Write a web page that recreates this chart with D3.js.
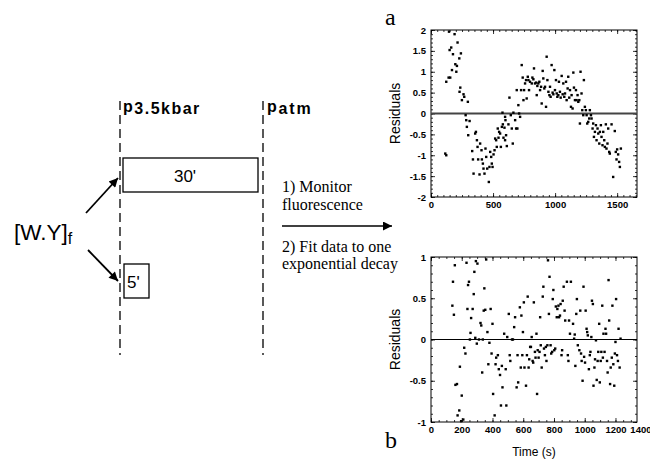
<!DOCTYPE html>
<html>
<head>
<meta charset="utf-8">
<script src="https://cdn.jsdelivr.net/npm/d3@7"></script>
<style>
  body { margin: 0; background: #fff; }
  svg { display: block; }
  text { font-family: "Liberation Sans", Arial, sans-serif; fill: #000; }
  .serif { font-family: "Liberation Serif", "Times New Roman", serif; }
</style>
</head>
<body>
<svg id="fig" width="650" height="459"></svg>
<script>

// residuals, 30 min at 3.5 kbar (panel a): [time s, residual]
const pointsA = [
  [115,-0.96],[123,-1.0],[123,0.76],[142,0.86],[155,0.86],[145,1.96],[150,1.52],[163,1.58],[177,1.42],[190,1.9],
  [169,1.04],[196,1.18],[204,1.0],[209,1.14],[214,1.7],[228,1.32],[241,1.44],[236,0.62],[230,0.52],[249,0.32],
  [262,0.46],[268,0.4],[297,0.28],[279,-0.04],[284,-0.16],[289,-0.32],[300,-0.52],[311,-0.18],[332,-0.9],[338,-1.1],
  [343,-1.44],[356,-0.48],[362,-0.44],[370,-0.64],[375,-0.8],[380,-1.1],[391,-1.46],[396,-0.72],[407,-0.88],[410,-1.1],
  [418,-1.2],[423,-1.32],[431,-1.44],[439,-0.84],[445,-1.04],[453,-1.32],[466,-1.64],[471,-1.28],[477,-0.92],[485,-1.04],
  [490,-1.2],[496,-1.28],[504,-0.98],[512,-0.88],[517,-0.6],[525,-0.64],[530,-0.8],[538,-0.36],[544,-0.58],[549,-0.44],
  [557,-0.48],[563,-0.8],[571,-0.32],[579,-0.26],[584,-0.58],[592,-0.34],[597,-0.64],[605,-0.52],[611,-0.78],[576,0.02],
  [597,-0.08],[600,-0.16],[624,-0.26],[632,0.38],[643,-0.04],[651,-0.36],[659,-0.72],[664,0.02],[678,-0.16],[686,-0.36],
  [691,0.56],[696,-0.36],[704,0.2],[710,0.0],[718,-0.08],[726,0.56],[731,1.16],[739,0.86],[745,0.32],[750,0.56],
  [758,0.72],[766,0.8],[771,0.36],[780,0.88],[785,0.8],[790,0.56],[798,0.76],[812,0.72],[817,0.86],[825,0.82],
  [830,1.08],[838,0.72],[847,0.74],[852,0.44],[857,0.66],[865,0.72],[873,0.76],[879,0.56],[887,0.64],[892,0.24],
  [900,1.02],[905,0.84],[913,0.6],[919,0.64],[927,0.16],[932,1.36],[938,0.8],[946,0.52],[954,0.44],[959,0.64],
  [964,0.4],[972,1.16],[980,0.5],[986,0.46],[994,1.04],[999,0.56],[1007,0.8],[1013,0.48],[1018,0.4],[1026,0.44],
  [1031,0.76],[1039,0.52],[1045,0.38],[1053,0.9],[1061,0.46],[1066,0.72],[1074,0.4],[1080,0.48],[1088,0.76],[1093,0.32],
  [1101,0.6],[1106,0.88],[1114,0.38],[1120,0.56],[1128,0.16],[1133,0.44],[1141,0.12],[1147,0.98],[1152,0.62],[1160,0.32],
  [1168,0.56],[1173,0.32],[1181,0.44],[1187,0.28],[1195,0.32],[1200,-0.24],[1205,1.0],[1213,0.48],[1219,0.08],[1227,-0.04],
  [1232,0.8],[1240,0.16],[1248,0.08],[1254,-0.04],[1259,-0.24],[1267,-0.2],[1275,-0.12],[1280,0.08],[1289,-0.04],[1294,-0.12],
  [1302,-0.36],[1307,-0.24],[1313,-0.56],[1321,-0.44],[1329,-0.28],[1334,-0.64],[1342,-0.36],[1348,-0.48],[1356,-0.72],[1361,-0.44],
  [1369,-0.28],[1374,-0.56],[1382,-0.76],[1388,-0.44],[1396,-0.64],[1401,-0.8],[1409,-0.26],[1414,-0.84],[1422,-0.72],[1428,-0.36],
  [1436,-0.92],[1441,-0.96],[1455,-0.26],[1468,-1.52],[1481,-0.42],[1489,-0.92],[1495,-1.1],[1500,-0.86],[1508,-0.98],[1516,-1.16],
  [1522,-1.28],[1530,-0.84]
];

// residuals, 5 min at 3.5 kbar (panel b)
const pointsB = [
  [143,0.70],[139,0.41],[149,0.30],[155,0.90],[159,-0.55],[169,-0.54],[173,-0.92],[184,-0.86],[188,-0.33],[196,-0.99],
  [200,-0.68],[210,-0.97],[216,-0.10],[224,-0.17],[231,0.93],[237,0.37],[241,0.66],[247,0.70],[253,0.0],[257,0.08],
  [261,0.26],[271,0.37],[278,0.55],[282,0.82],[288,0.02],[292,0.95],[298,-0.05],[302,0.92],[312,0.0],[322,0.20],
  [327,0.17],[333,-0.40],[337,0.0],[343,0.35],[347,0.62],[353,0.36],[359,0.97],[367,0.09],[373,-0.30],[380,-0.04],
  [388,0.37],[394,-0.17],[400,0.19],[404,-0.66],[414,-0.92],[420,-0.30],[424,-0.22],[435,-0.19],[441,-0.36],[449,-0.43],
  [455,-0.80],[461,-0.32],[465,-0.58],[476,0.07],[486,-0.36],[490,-0.80],[496,0.03],[506,0.31],[512,-0.19],[516,-0.26],
  [527,0.0],[533,0.0],[541,0.15],[547,0.27],[557,-0.58],[563,-0.19],[567,-0.52],[578,0.39],[584,-0.34],[588,0.29],
  [594,-0.19],[598,0.09],[604,0.45],[608,-0.34],[618,-0.56],[624,-0.19],[629,0.52],[635,-0.34],[639,-0.24],[645,-0.09],
  [650,-0.09],[655,0.03],[661,-0.26],[665,-0.28],[669,0.45],[676,-0.15],[680,-0.22],[686,0.07],[690,-0.66],[694,-0.13],
  [700,-0.22],[706,-0.15],[710,0.27],[714,-0.07],[720,-0.34],[727,0.52],[731,0.64],[735,-0.11],[741,-0.19],[747,-0.09],
  [751,-0.26],[757,-0.07],[761,0.96],[767,0.31],[771,0.76],[778,-0.07],[782,-0.17],[788,-0.15],[792,0.49],[796,0.60],
  [802,-0.13],[808,-0.11],[812,0.40],[818,0.27],[822,0.37],[829,0.41],[833,0.27],[839,0.29],[843,0.43],[849,-0.19],
  [853,-0.13],[857,0.47],[863,0.64],[869,0.35],[873,0.23],[884,0.70],[890,-0.19],[894,-0.26],[898,0.23],[904,0.07],
  [910,0.70],[924,0.19],[931,0.01],[935,0.06],[939,-0.32],[945,0.31],[949,0.49],[955,-0.07],[965,-0.13],[971,0.35],
  [976,-0.17],[980,-0.26],[986,-0.50],[992,0.64],[996,-0.21],[1002,-0.28],[1006,0.35],[1012,0.13],[1016,0.09],[1020,0.05],
  [1027,-0.36],[1033,-0.19],[1037,-0.15],[1043,0.03],[1047,0.47],[1053,0.43],[1057,-0.56],[1063,-0.34],[1067,-0.24],[1073,-0.01],
  [1078,-0.49],[1084,-0.26],[1088,-0.15],[1094,0.19],[1098,-0.52],[1104,-0.26],[1108,-0.15],[1114,0.41],[1118,-0.22],[1122,0.07],
  [1129,-0.15],[1135,0.13],[1139,0.07],[1145,-0.26],[1149,-0.40],[1155,0.72],[1159,0.23],[1165,-0.54],[1169,-0.34],[1176,-0.22],
  [1180,0.41],[1186,-0.30],[1192,-0.56],[1196,-0.17],[1200,-0.03],[1204,0.49],[1210,-0.19],[1216,-0.26],[1220,0.13],[1227,-0.34],
  [1233,0.01]
];

const ticksAx = [0, 500, 1000, 1500];
const ticksAy = [-2, -1.5, -1, -0.5, 0, 0.5, 1, 1.5, 2];
const ticksBx = [0, 200, 400, 600, 800, 1000, 1200, 1400];
const ticksBy = [-1, -0.5, 0, 0.5, 1];

const svg = d3.select('#fig');

drawDiagram();

drawPanel({
  points: pointsA, xDomain: [0, 1660], yDomain: [-2, 2], top: 30, bottom: 197,
  xTicks: ticksAx, yTicks: ticksAy, xMinor: 50, yMinor: 0.1, zeroWidth: 2, zeroColor: '#444',
  letter: 'a', letterY: 25, xTitle: null
});

drawPanel({
  points: pointsB, xDomain: [0, 1340], yDomain: [-1, 1], top: 257, bottom: 422,
  xTicks: ticksBx, yTicks: ticksBy, xMinor: 50, yMinor: 0.1, zeroWidth: 1, zeroColor: '#000',
  letter: 'b', letterY: 448, xTitle: 'Time (s)'
});


function drawPanel(opt) {
  const left = 431, right = 637;
  const x = d3.scaleLinear().domain(opt.xDomain).range([left, right]);
  const y = d3.scaleLinear().domain(opt.yDomain).range([opt.bottom, opt.top]);

  const xMinorTicks = d3.range(opt.xDomain[0], opt.xDomain[1], opt.xMinor);
  const yMinorTicks = d3.range(opt.yDomain[0], opt.yDomain[1] + 1e-9, opt.yMinor);

  const g = svg.append('g');
  const fmt = d => String(d);

  // minor ticks, all four sides, inward
  g.append('g').attr('transform', `translate(0,${opt.bottom})`)
    .call(d3.axisBottom(x).tickValues(xMinorTicks).tickSize(-2).tickFormat(''));
  g.append('g').attr('transform', `translate(0,${opt.top})`)
    .call(d3.axisTop(x).tickValues(xMinorTicks).tickSize(-2).tickFormat(''));
  g.append('g').attr('transform', `translate(${left},0)`)
    .call(d3.axisLeft(y).tickValues(yMinorTicks).tickSize(-2).tickFormat(''));
  g.append('g').attr('transform', `translate(${right},0)`)
    .call(d3.axisRight(y).tickValues(yMinorTicks).tickSize(-2).tickFormat(''));

  // major ticks + labels
  const xAxis = g.append('g').attr('class', 'xaxis').attr('transform', `translate(0,${opt.bottom})`)
    .call(d3.axisBottom(x).tickValues(opt.xTicks).tickSize(-4).tickPadding(4).tickFormat(fmt));
  g.append('g').attr('transform', `translate(0,${opt.top})`)
    .call(d3.axisTop(x).tickValues(opt.xTicks.filter(d => d <= opt.xDomain[1])).tickSize(-4).tickFormat(''));
  g.append('g').attr('transform', `translate(${left},0)`)
    .call(d3.axisLeft(y).tickValues(opt.yTicks).tickSize(-4).tickPadding(5).tickFormat(fmt));
  g.append('g').attr('transform', `translate(${right},0)`)
    .call(d3.axisRight(y).tickValues(opt.yTicks).tickSize(-4).tickFormat(''));

  // a label past the end of the frame is pulled back to the picture's edge
  xAxis.selectAll('.tick').filter(d => d > opt.xDomain[1]).each(function(d) {
    const t = d3.select(this);
    t.select('line').remove();
    t.select('text').attr('text-anchor', 'end').attr('x', 651 - x(d));
  });

  g.selectAll('.domain').remove();
  g.selectAll('.tick line').attr('stroke', '#000').attr('stroke-width', 0.8);
  g.selectAll('.tick text')
    .attr('font-size', 9.5).attr('font-weight', 'bold')
    .attr('font-family', '"Liberation Sans", Arial, sans-serif').attr('fill', '#000');

  // frame
  g.append('rect')
    .attr('x', left).attr('y', opt.top)
    .attr('width', right - left).attr('height', opt.bottom - opt.top)
    .attr('fill', 'none').attr('stroke', '#000').attr('stroke-width', 1);

  // zero line
  g.append('line')
    .attr('x1', left).attr('x2', right)
    .attr('y1', y(0)).attr('y2', y(0))
    .attr('stroke', opt.zeroColor).attr('stroke-width', opt.zeroWidth);

  g.append('g').selectAll('rect.pt')
    .data(opt.points)
    .enter()
    .append('rect')
    .attr('class', 'pt')
    .attr('x', d => x(d[0]) - 1.2)
    .attr('y', d => y(d[1]) - 1.2)
    .attr('width', 2.4).attr('height', 2.4)
    .attr('fill', '#000');

  // axis titles
  const midY = (opt.top + opt.bottom) / 2;
  g.append('text')
    .attr('transform', `translate(400,${midY}) rotate(-90)`)
    .attr('text-anchor', 'middle')
    .attr('font-size', 14)
    .text('Residuals');

  if (opt.xTitle) {
    g.append('text')
      .attr('x', 534).attr('y', 456)
      .attr('text-anchor', 'middle')
      .attr('font-size', 12)
      .text(opt.xTitle);
  }

  g.append('text')
    .attr('class', 'serif')
    .attr('x', 385).attr('y', opt.letterY)
    .attr('font-size', 24)
    .text(opt.letter);
}


function drawDiagram() {
  const defs = svg.append('defs');
  defs.append('marker')
    .attr('id', 'head')
    .attr('viewBox', '0 0 10 10')
    .attr('refX', 10).attr('refY', 5)
    .attr('markerUnits', 'userSpaceOnUse')
    .attr('markerWidth', 12).attr('markerHeight', 9)
    .attr('orient', 'auto')
    .append('path')
    .attr('d', 'M0,0 L10,5 L0,10 Z')
    .attr('fill', '#000');

  const g = svg.append('g');

  // pressure boundaries
  [120, 263].forEach(xx => {
    g.append('line')
      .attr('x1', xx).attr('x2', xx).attr('y1', 101).attr('y2', 355)
      .attr('stroke', '#000').attr('stroke-width', 1.3)
      .attr('stroke-dasharray', '9,5');
  });

  const p1 = g.append('text').attr('x', 123).attr('y', 112)
    .attr('font-size', 16).attr('font-weight', 'bold').attr('letter-spacing', 1.5);
  p1.append('tspan').text('p');
  p1.append('tspan').attr('dy', 2).text('3.5kbar');

  const p2 = g.append('text').attr('x', 267).attr('y', 112)
    .attr('font-size', 16).attr('font-weight', 'bold').attr('letter-spacing', 1.8);
  p2.append('tspan').text('p');
  p2.append('tspan').attr('dy', 2).text('atm');

  // incubation boxes
  g.append('rect').attr('x', 123).attr('y', 158).attr('width', 135).attr('height', 34)
    .attr('fill', 'none').attr('stroke', '#000').attr('stroke-width', 1.3);
  g.append('text').attr('x', 185).attr('y', 182).attr('text-anchor', 'middle')
    .attr('font-size', 17).text("30'");

  g.append('rect').attr('x', 124).attr('y', 264).attr('width', 25).attr('height', 34)
    .attr('fill', 'none').attr('stroke', '#000').attr('stroke-width', 1.3);
  g.append('text').attr('x', 127).attr('y', 288)
    .attr('font-size', 17).text("5'");

  const wy = g.append('text').attr('x', 14).attr('y', 240).attr('font-size', 22.5);
  wy.append('tspan').text('[W.Y]');
  wy.append('tspan').attr('dy', 4).attr('font-size', 16).text('f');

  g.append('line').attr('x1', 86).attr('y1', 213).attr('x2', 118).attr('y2', 178)
    .attr('stroke', '#000').attr('stroke-width', 1.8).attr('marker-end', 'url(#head)');
  g.append('line').attr('x1', 88).attr('y1', 250).attr('x2', 118).attr('y2', 281)
    .attr('stroke', '#000').attr('stroke-width', 1.8).attr('marker-end', 'url(#head)');

  // steps
  const lines = [
    ['1) Monitor', 192],
    ['fluorescence', 210],
    ['2) Fit data to one', 252],
    ['exponential decay', 269]
  ];
  lines.forEach(l => {
    g.append('text').attr('class', 'serif')
      .attr('x', 282).attr('y', l[1]).attr('font-size', 16).text(l[0]);
  });

  g.append('line').attr('x1', 282).attr('y1', 226).attr('x2', 392).attr('y2', 226)
    .attr('stroke', '#000').attr('stroke-width', 1.6).attr('marker-end', 'url(#head)');
}

</script>
</body>
</html>
